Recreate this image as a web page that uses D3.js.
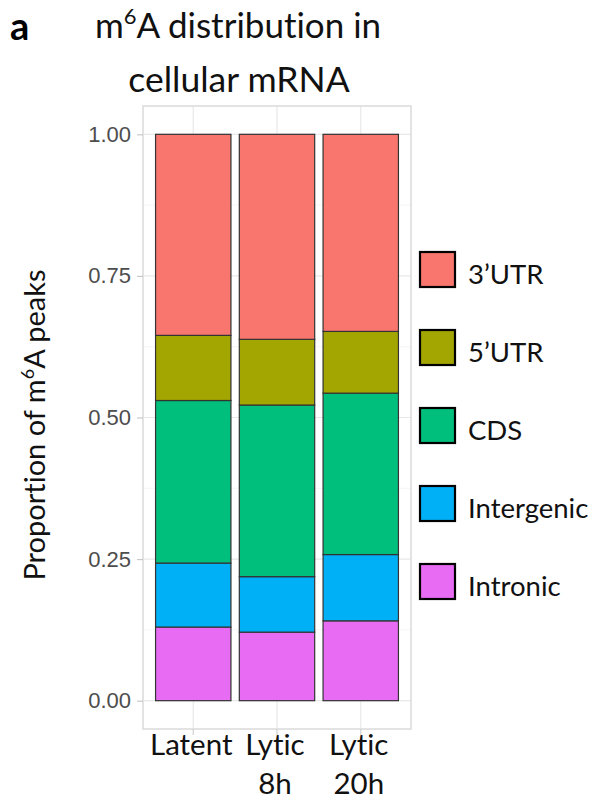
<!DOCTYPE html>
<html>
<head>
<meta charset="utf-8">
<script src="https://cdn.jsdelivr.net/npm/d3@7"></script>
<style>
  html, body { margin: 0; padding: 0; background: #fff; }
  svg { display: block; }
  text { font-variant-ligatures: none; font-feature-settings: "liga" 0; }
</style>
</head>
<body>
<svg id="chart" width="593" height="801"></svg>
<script>
// Conditions (x axis), split into label lines
const conditions = ["Latent", "Lytic 8h", "Lytic 20h"];
const conditionLines = [["Latent"], ["Lytic", "8h"], ["Lytic", "20h"]];

// Peak categories, top of the stack first (legend order)
const regions = ["3\u2019UTR", "5\u2019UTR", "CDS", "Intergenic", "Intronic"];
const regionColors = ["#F8766D", "#A3A500", "#00BF7D", "#00B0F6", "#E76BF3"];

// Proportion of m6A peaks per condition
const utr3       = [0.355, 0.362, 0.348];
const utr5       = [0.115, 0.116, 0.109];
const cds        = [0.287, 0.303, 0.285];
const intergenic = [0.113, 0.098, 0.117];
const intronic   = [0.130, 0.121, 0.141];

const yTicks = [0, 0.25, 0.5, 0.75, 1];
const yMinor = [0.125, 0.375, 0.625, 0.875];

const seriesByRegion = [utr3, utr5, cds, intergenic, intronic];
const rows = conditions.map((c, i) => {
  const r = { condition: c, idx: i };
  regions.forEach((k, j) => { r[k] = seriesByRegion[j][i]; });
  return r;
});

const svg = d3.select("#chart");
const textFont = "Lato, 'Open Sans', sans-serif";

const panel = { left: 143, right: 411, top: 106, bottom: 729 };

const x = d3.scaleLinear().domain([-0.6, conditions.length - 1 + 0.6]).range([panel.left, panel.right]);
const y = d3.scaleLinear().domain([-0.05, 1.05]).range([panel.bottom, panel.top]);
const color = d3.scaleOrdinal().domain(regions).range(regionColors);
const barWidth = x(0.9) - x(0);

// panel background + grid
svg.append("rect")
  .attr("x", panel.left).attr("y", panel.top)
  .attr("width", panel.right - panel.left).attr("height", panel.bottom - panel.top)
  .attr("fill", "#fff");

const grid = svg.append("g");
grid.selectAll(".minor").data(yMinor).join("line")
  .attr("x1", panel.left).attr("x2", panel.right)
  .attr("y1", d => y(d)).attr("y2", d => y(d))
  .attr("stroke", "#f2f2f2").attr("stroke-width", 0.8);
grid.selectAll(".majorY").data(yTicks).join("line")
  .attr("x1", panel.left).attr("x2", panel.right)
  .attr("y1", d => y(d)).attr("y2", d => y(d))
  .attr("stroke", "#e8e8e8").attr("stroke-width", 1.2);
grid.selectAll(".majorX").data(conditions).join("line")
  .attr("x1", (d, i) => x(i)).attr("x2", (d, i) => x(i))
  .attr("y1", panel.top).attr("y2", panel.bottom)
  .attr("stroke", "#e8e8e8").attr("stroke-width", 1.2);

// stacked bars, Intronic at the bottom
const stack = d3.stack().keys(regions.slice().reverse());
const layers = stack(rows);

svg.append("g").selectAll("g").data(layers).join("g")
  .attr("fill", d => color(d.key))
  .selectAll("rect").data(d => d).join("rect")
  .attr("x", d => x(d.data.idx) - barWidth / 2)
  .attr("width", barWidth)
  .attr("y", d => y(d[1]))
  .attr("height", d => y(d[0]) - y(d[1]))
  .attr("stroke", "#333")
  .attr("stroke-width", 1.2);

// panel border
svg.append("rect")
  .attr("x", panel.left).attr("y", panel.top)
  .attr("width", panel.right - panel.left).attr("height", panel.bottom - panel.top)
  .attr("fill", "none").attr("stroke", "#dcdcdc").attr("stroke-width", 1.6);

// y axis
const yAxis = svg.append("g")
  .attr("transform", `translate(${panel.left},0)`)
  .call(d3.axisLeft(y).tickValues(yTicks).tickFormat(d3.format(".2f")).tickSize(6).tickPadding(6));
yAxis.select(".domain").remove();
yAxis.selectAll(".tick line").attr("stroke", "#c8c8c8").attr("stroke-width", 1.2);
yAxis.selectAll(".tick text")
  .attr("fill", "#4d4d4d")
  .style("font-family", "'Liberation Sans', Arial, sans-serif")
  .style("font-size", "22px");

// x axis ticks + multi-line labels
const xAxis = svg.append("g").attr("transform", `translate(0,${panel.bottom})`);
xAxis.selectAll("line").data(conditions).join("line")
  .attr("x1", (d, i) => x(i)).attr("x2", (d, i) => x(i))
  .attr("y1", 0).attr("y2", 6)
  .attr("stroke", "#d0d0d0").attr("stroke-width", 1.2);
xAxis.selectAll("text").data(conditionLines).join("text")
  .attr("x", (d, i) => x(i) - 2)
  .attr("y", 26)
  .attr("text-anchor", "middle")
  .style("font-family", textFont)
  .style("font-size", "29.5px")
  .attr("fill", "#111")
  .each(function (lines) {
    d3.select(this).selectAll("tspan").data(lines).join("tspan")
      .attr("x", d3.select(this).attr("x"))
      .attr("dy", (l, k) => k === 0 ? 0 : 39)
      .text(l => l);
  });

// y axis title
const yTitle = svg.append("text")
  .attr("transform", "translate(45,425) rotate(-90)")
  .attr("text-anchor", "middle")
  .style("font-family", textFont)
  .style("font-size", "29px")
  .attr("fill", "#111");
yTitle.append("tspan").text("Proportion of m");
yTitle.append("tspan").attr("dy", -11).style("font-size", "18px").text("6");
yTitle.append("tspan").attr("dy", 11).text("A peaks");

// title
svg.append("text")
  .attr("x", 10).attr("y", 40)
  .style("font-family", textFont)
  .style("font-weight", "bold")
  .style("font-size", "38px")
  .attr("fill", "#000")
  .text("a");

const title1 = svg.append("text")
  .attr("x", 238).attr("y", 38)
  .attr("text-anchor", "middle")
  .style("font-family", textFont)
  .style("font-size", "35px")
  .attr("fill", "#111");
title1.append("tspan").text("m");
title1.append("tspan").attr("dy", -14).style("font-size", "22px").text("6");
title1.append("tspan").attr("dy", 14).text("A distribution in");

svg.append("text")
  .attr("x", 239).attr("y", 92)
  .attr("text-anchor", "middle")
  .style("font-family", textFont)
  .style("font-size", "35.5px")
  .attr("fill", "#111")
  .text("cellular mRNA");

// legend
const legend = svg.append("g");
const keySize = 35, keyX = 420, keyTop = 252, keyStep = 78;
const item = legend.selectAll("g").data(regions).join("g")
  .attr("transform", (d, i) => `translate(${keyX},${keyTop + i * keyStep})`);
item.append("rect")
  .attr("width", keySize).attr("height", keySize)
  .attr("fill", d => color(d))
  .attr("stroke", "#000").attr("stroke-width", 2.2);
item.append("text")
  .attr("x", 48).attr("y", keySize / 2 + 14)
  .style("font-family", textFont)
  .style("font-size", "27.5px")
  .attr("fill", "#111")
  .text(d => d);
</script>
</body>
</html>
